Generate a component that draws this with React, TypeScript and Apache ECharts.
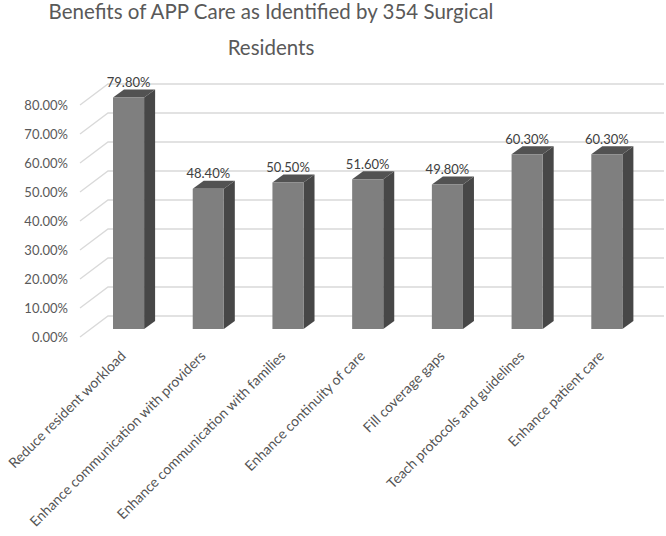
import React, { useEffect, useRef } from "react";
import * as echarts from "echarts";

const categories = [
  "Reduce resident workload",
  "Enhance communication with providers",
  "Enhance communication with families",
  "Enhance continuity of care",
  "Fill coverage gaps",
  "Teach protocols and guidelines",
  "Enhance patient care",
];
const values = [79.8, 48.4, 50.5, 51.6, 49.8, 60.3, 60.3];
const yTicks = [0, 10, 20, 30, 40, 50, 60, 70, 80];
const titleText = "Benefits of APP Care as Identified by 354 Surgical\nResidents";

const FONT = "Lato, 'Open Sans', sans-serif";

export default function App() {
  const ref = useRef<HTMLDivElement>(null);
  useEffect(() => {
    if (!ref.current) return;
    const chart = echarts.init(ref.current, undefined, { renderer: "svg" });
    const WALL_DX = 28;
    const WALL_DY = -21;
    const BAR_OX = 10.7;
    const BAR_OY = -8;
    const BAR_DX = 11;
    const BAR_DY = -8;
    const BAR_W_RATIO = 0.39;

    chart.setOption({
      animation: false,
      backgroundColor: "#ffffff",
      textStyle: { fontFamily: FONT },
      title: {
        text: titleText,
        left: 266,
        top: -12,
        textAlign: "center",
        textStyle: {
          fontFamily: FONT,
          fontSize: 20.5,
          fontWeight: "normal",
          color: "#595959",
          lineHeight: 36,
        },
      },
      grid: [
        { left: 78, right: 30, top: 105, bottom: 199, containLabel: false, outerBoundsMode: "none" },
        { left: 83, right: 25, top: 105, bottom: 183, containLabel: false, outerBoundsMode: "none" },
      ],
      xAxis: [
        {
          type: "category",
          gridIndex: 0,
          data: categories,
          axisLine: { show: false },
          axisTick: { show: false },
          splitLine: { show: false },
          axisLabel: { show: false },
        },
        {
          type: "category",
          gridIndex: 1,
          data: categories,
          axisLine: { show: false },
          axisTick: { show: false },
          splitLine: { show: false },
          axisLabel: {
            interval: 0,
            rotate: 45,
            margin: 0,
            fontSize: 14,
            color: "#545454",
            fontFamily: FONT,
          },
        },
      ],
      yAxis: [
        {
          type: "value",
          gridIndex: 0,
          min: 0,
          max: 80,
          interval: 10,
          axisLine: { show: false },
          axisTick: { show: false },
          splitLine: { show: false },
          axisLabel: {
            margin: 10,
            fontSize: 13,
            color: "#595959",
            fontFamily: FONT,
            formatter: (v: number) => v.toFixed(2) + "%",
          },
        },
        {
          type: "value",
          gridIndex: 1,
          min: 0,
          max: 80,
          interval: 10,
          show: false,
        },
      ],
      series: [
        {
          type: "custom",
          name: "grid",
          silent: true,
          z: 1,
          xAxisIndex: 0,
          yAxisIndex: 0,
          data: yTicks.map((t) => [0, t]),
          renderItem: (params: any, api: any) => {
            const cs = params.coordSys;
            const y = api.coord([0, api.value(1)])[1];
            const x0 = cs.x + 2;
            return {
              type: "polyline",
              shape: {
                points: [
                  [x0, y],
                  [x0 + WALL_DX, y + WALL_DY],
                  [cs.x + cs.width + WALL_DX, y + WALL_DY],
                ],
              },
              style: { stroke: "#d9d9d9", lineWidth: 1.3, fill: "none" },
            };
          },
        },
        {
          type: "custom",
          name: "bars",
          z: 2,
          xAxisIndex: 0,
          yAxisIndex: 0,
          data: values.map((v, i) => [i, v]),
          renderItem: (params: any, api: any) => {
            const idx = api.value(0);
            const v = api.value(1);
            const p0 = api.coord([idx, 0]);
            const p1 = api.coord([idx, v]);
            const band = api.size([1, 0])[0];
            const w = band * BAR_W_RATIO;
            const cx = p0[0] + BAR_OX;
            const xL = cx - w / 2;
            const xR = cx + w / 2;
            const yB = p0[1] + BAR_OY;
            const yT = p1[1] + BAR_OY;
            return {
              type: "group",
              children: [
                {
                  type: "polygon",
                  shape: {
                    points: [
                      [xR, yT],
                      [xR + BAR_DX, yT + BAR_DY],
                      [xR + BAR_DX, yB + BAR_DY],
                      [xR, yB],
                    ],
                  },
                  style: { fill: "#474747" },
                },
                {
                  type: "polygon",
                  shape: {
                    points: [
                      [xL, yT],
                      [xR, yT],
                      [xR + BAR_DX, yT + BAR_DY],
                      [xL + BAR_DX, yT + BAR_DY],
                    ],
                  },
                  style: { fill: "#525252" },
                },
                {
                  type: "rect",
                  shape: { x: xL, y: yT, width: w, height: yB - yT },
                  style: { fill: "#7f7f7f" },
                },
                {
                  type: "text",
                  x: cx,
                  y: yT + BAR_DY - 1,
                  style: {
                    text: v.toFixed(2) + "%",
                    align: "center",
                    verticalAlign: "bottom",
                    fontSize: 13,
                    fontFamily: FONT,
                    fill: "#404040",
                  },
                },
              ],
            };
          },
        },
      ],
    });
    return () => chart.dispose();
  }, []);
  return (
    <div
      ref={ref}
      style={{ position: "fixed", left: 0, top: 0, width: 666, height: 536 }}
    />
  );
}
